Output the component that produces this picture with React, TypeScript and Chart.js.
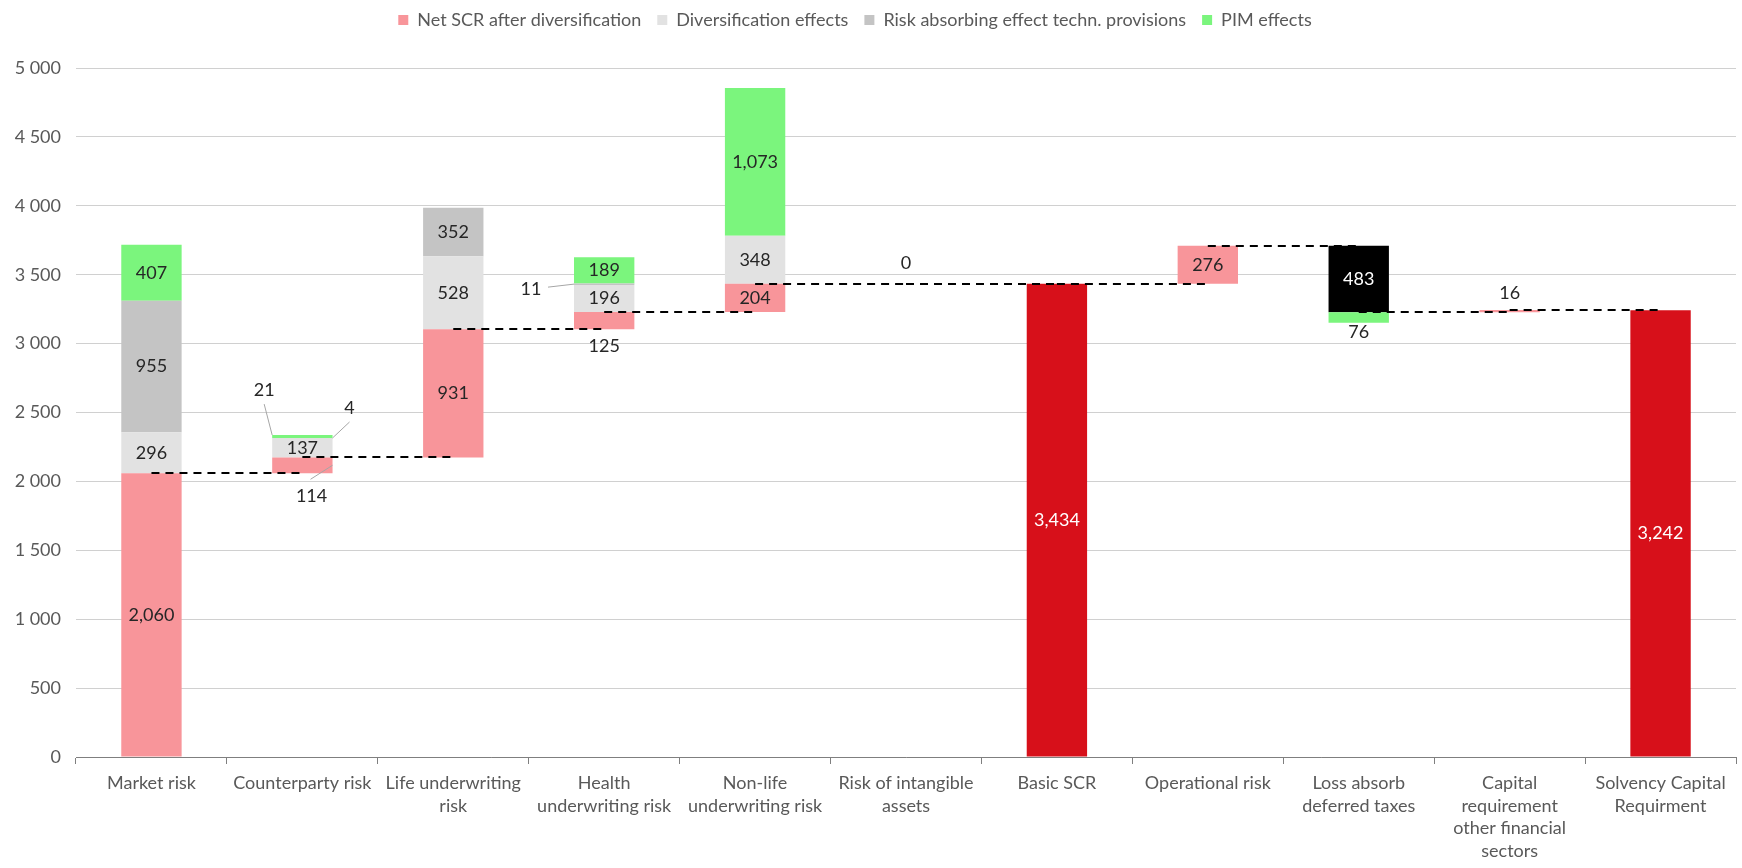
import React, { useEffect, useRef } from "react";
import { Chart, registerables } from "chart.js";

Chart.register(...registerables);

// ---- data ----
const categories: (string | string[])[] = [
  "Market risk",
  "Counterparty risk",
  ["Life underwriting", "risk"],
  ["Health", "underwriting risk"],
  ["Non-life", "underwriting risk"],
  ["Risk of intangible", "assets"],
  "Basic SCR",
  "Operational risk",
  ["Loss absorb", "deferred taxes"],
  ["Capital", "requirement", "other financial", "sectors"],
  ["Solvency Capital", "Requirment"],
];

const netScr: (number | null)[] = [2060, 114, 931, 125, 204, 0, null, 276, null, 16, null];
const diversification: (number | null)[] = [296, 137, 528, 196, 348, null, null, null, null, null, null];
const riskAbsorbing: (number | null)[] = [955, 4, 352, 11, null, null, null, null, null, null, null];
const pimEffects: (number | null)[] = [407, 21, null, 189, 1073, null, null, null, 76, null, null];
const deferredTaxes: (number | null)[] = [null, null, null, null, null, null, null, null, -483, null, null];
const totals: (number | null)[] = [null, null, null, null, null, null, 3434, null, null, null, 3242];

const yTicks = [0, 500, 1000, 1500, 2000, 2500, 3000, 3500, 4000, 4500, 5000];

// ---- styles ----
const FONT = "Lato, 'Open Sans', sans-serif";
const FONT_SIZE = 18;
const COLORS = {
  net: "#F8959A",
  div: "#E2E2E2",
  risk: "#C4C4C4",
  pim: "#7BF57D",
  total: "#D7101A",
  tax: "#000000",
};

type Range = [number, number] | null;

// Waterfall: each step starts where the previous one ended; effects are stacked
// beyond the end of the step, in the step's direction.
function buildWaterfall() {
  const n = categories.length;
  const net: Range[] = [], div: Range[] = [], risk: Range[] = [], pim: Range[] = [];
  const tot: Range[] = [], tax: Range[] = [];
  const levels: number[] = [];
  let level = 0;
  for (let i = 0; i < n; i++) {
    net[i] = div[i] = risk[i] = pim[i] = tot[i] = tax[i] = null;
    const t = totals[i];
    if (t != null) {
      tot[i] = [0, t];
      level = t;
      levels.push(level);
      continue;
    }
    const start = level;
    let end = level;
    const s = netScr[i];
    if (s != null) {
      net[i] = [start, start + s];
      end = start + s;
    }
    const d = deferredTaxes[i];
    if (d != null) {
      tax[i] = [start, start + d];
      end = start + d;
    }
    const dir = end >= start ? 1 : -1;
    let edge = end;
    const effects: [(number | null)[], Range[]][] = [
      [diversification, div],
      [riskAbsorbing, risk],
      [pimEffects, pim],
    ];
    for (const [src, out] of effects) {
      const v = src[i];
      if (v == null) continue;
      const next = edge + dir * v;
      out[i] = [Math.min(edge, next), Math.max(edge, next)];
      edge = next;
    }
    level = end;
    levels.push(level);
  }
  return { net, div, risk, pim, tot, tax, levels };
}

// Labels that sit outside their segment, with optional leader line.
type Anchor = "topLeft" | "topRight" | "right" | "left" | "top" | "bottom";
interface Callout {
  anchor: Anchor;
  dx: number;
  dy: number;
  leader?: [number, number];
}
const callouts: Record<string, Callout> = {
  "pim:1": { anchor: "topLeft", dx: -8, dy: -45, leader: [0, 14] },
  "risk:1": { anchor: "topRight", dx: 17, dy: -30, leader: [0, 14] },
  "net:1": { anchor: "right", dx: -21, dy: 31, leader: [-1, -17] },
  "risk:3": { anchor: "left", dx: -43, dy: 5, leader: [17, -2] },
  "net:3": { anchor: "bottom", dx: 0, dy: 17 },
  "net:5": { anchor: "top", dx: 0, dy: -21 },
  "pim:8": { anchor: "bottom", dx: 0, dy: 9 },
  "net:9": { anchor: "top", dx: 0, dy: -17 },
};

function fmtValue(v: number) {
  return Math.abs(v).toLocaleString("en-US");
}
function fmtTick(v: number) {
  if (v < 1000) return String(v);
  const th = Math.floor(v / 1000);
  const rest = String(v % 1000).padStart(3, "0");
  return `${th} ${rest}`;
}

export default function App() {
  const canvasRef = useRef<HTMLCanvasElement | null>(null);

  useEffect(() => {
    document.body.style.margin = "0";
    const canvas = canvasRef.current;
    if (!canvas) return;
    const wf = buildWaterfall();

    const connectors = {
      id: "connectors",
      afterDatasetsDraw(chart: any) {
        const { ctx } = chart;
        const xs = chart.scales.x;
        const ys = chart.scales.y;
        ctx.save();
        ctx.strokeStyle = "#000";
        ctx.lineWidth = 2;
        ctx.setLineDash([8, 6]);
        for (let i = 0; i < wf.levels.length - 1; i++) {
          const y = Math.round(ys.getPixelForValue(wf.levels[i]));
          ctx.beginPath();
          ctx.moveTo(xs.getPixelForValue(i), y);
          ctx.lineTo(xs.getPixelForValue(i + 1), y);
          ctx.stroke();
        }
        ctx.restore();
      },
    };

    const valueLabels = {
      id: "valueLabels",
      afterDatasetsDraw(chart: any) {
        const { ctx } = chart;
        ctx.save();
        ctx.font = `${FONT_SIZE}px ${FONT}`;
        ctx.textAlign = "center";
        ctx.textBaseline = "middle";
        chart.data.datasets.forEach((ds: any, di: number) => {
          const meta = chart.getDatasetMeta(di);
          meta.data.forEach((bar: any, i: number) => {
            const v = ds.values[i];
            if (v == null) return;
            const { x, y, base, width } = bar.getProps(["x", "y", "base", "width"], true);
            const top = Math.min(y, base);
            const bottom = Math.max(y, base);
            const c = callouts[`${ds.key}:${i}`];
            let lx = x;
            let ly = (top + bottom) / 2;
            if (c) {
              let ax = x, ay = top;
              if (c.anchor === "topLeft") { ax = x - width / 2; ay = top; }
              else if (c.anchor === "topRight") { ax = x + width / 2; ay = top; }
              else if (c.anchor === "right") { ax = x + width / 2; ay = (top + bottom) / 2; }
              else if (c.anchor === "left") { ax = x - width / 2; ay = (top + bottom) / 2; }
              else if (c.anchor === "bottom") { ax = x; ay = bottom; }
              lx = ax + c.dx;
              ly = ay + c.dy;
              if (c.leader) {
                ctx.save();
                ctx.strokeStyle = "#A6A6A6";
                ctx.lineWidth = 1;
                ctx.beginPath();
                ctx.moveTo(lx + c.leader[0], ly + c.leader[1]);
                ctx.lineTo(ax, ay);
                ctx.stroke();
                ctx.restore();
              }
            }
            ctx.fillStyle = ds.labelColor;
            ctx.fillText(fmtValue(v), lx, ly);
          });
        });
        ctx.restore();
      },
    };

    const legendSpacing = {
      id: "legendSpacing",
      beforeInit(chart: any) {
        const legend = chart.legend;
        const fit = legend.fit;
        legend.fit = function () {
          fit.call(legend);
          legend.height += 29;
        };
      },
    };

    const mk = (key: string, label: string, data: Range[], values: (number | null)[], color: string, labelColor: string, inLegend: boolean) => ({
      key,
      label,
      data,
      values,
      backgroundColor: color,
      labelColor,
      inLegend,
      borderWidth: 0,
      borderSkipped: false,
      barPercentage: 0.4,
      categoryPercentage: 1,
    });

    const chart = new Chart(canvas, {
      type: "bar",
      data: {
        labels: categories,
        datasets: [
          mk("net", "Net SCR after diversification", wf.net, netScr, COLORS.net, "#262626", true),
          mk("div", "Diversification effects", wf.div, diversification, COLORS.div, "#262626", true),
          mk("risk", "Risk absorbing effect techn. provisions", wf.risk, riskAbsorbing, COLORS.risk, "#262626", true),
          mk("pim", "PIM effects", wf.pim, pimEffects, COLORS.pim, "#262626", true),
          mk("total", "Total", wf.tot, totals, COLORS.total, "#FFFFFF", false),
          mk("tax", "Deferred taxes", wf.tax, deferredTaxes, COLORS.tax, "#FFFFFF", false),
        ] as any,
      },
      options: {
        animation: false,
        responsive: true,
        maintainAspectRatio: false,
        layout: { padding: { top: -5, right: 6, left: -26, bottom: 0 } },
        plugins: {
          tooltip: { enabled: false },
          legend: {
            position: "top",
            labels: {
              boxWidth: 10,
              boxHeight: 10,
              padding: 16,
              color: "#595959",
              font: { family: FONT, size: FONT_SIZE },
              filter: (item: any, data: any) => data.datasets[item.datasetIndex].inLegend,
            },
          },
        },
        scales: {
          x: {
            stacked: true,
            grid: {
              offset: true,
              drawOnChartArea: false,
              drawTicks: true,
              tickLength: 7,
              color: "#7F7F7F",
            },
            border: { display: true, color: "#7F7F7F", width: 1 },
            ticks: {
              color: "#595959",
              font: { family: FONT, size: FONT_SIZE, lineHeight: 1.25 },
              padding: 8,
              maxRotation: 0,
              autoSkip: false,
            },
            afterFit(scale: any) {
              scale.height = 111;
            },
          },
          y: {
            stacked: false,
            min: 0,
            max: 5000,
            afterBuildTicks(scale: any) {
              scale.ticks = yTicks.map((v) => ({ value: v }));
            },
            grid: { color: "#D0D0D0", lineWidth: 1, drawTicks: false },
            border: { display: false },
            ticks: {
              color: "#595959",
              font: { family: FONT, size: FONT_SIZE },
              padding: 15,
              callback: (v: any) => fmtTick(Number(v)),
            },
            afterFit(scale: any) {
              scale.width = 102;
            },
          },
        },
      },
      plugins: [legendSpacing, connectors, valueLabels],
    });

    return () => chart.destroy();
  }, []);

  return (
    <div style={{ width: 1742, height: 868, position: "relative" }}>
      <canvas ref={canvasRef} />
    </div>
  );
}
